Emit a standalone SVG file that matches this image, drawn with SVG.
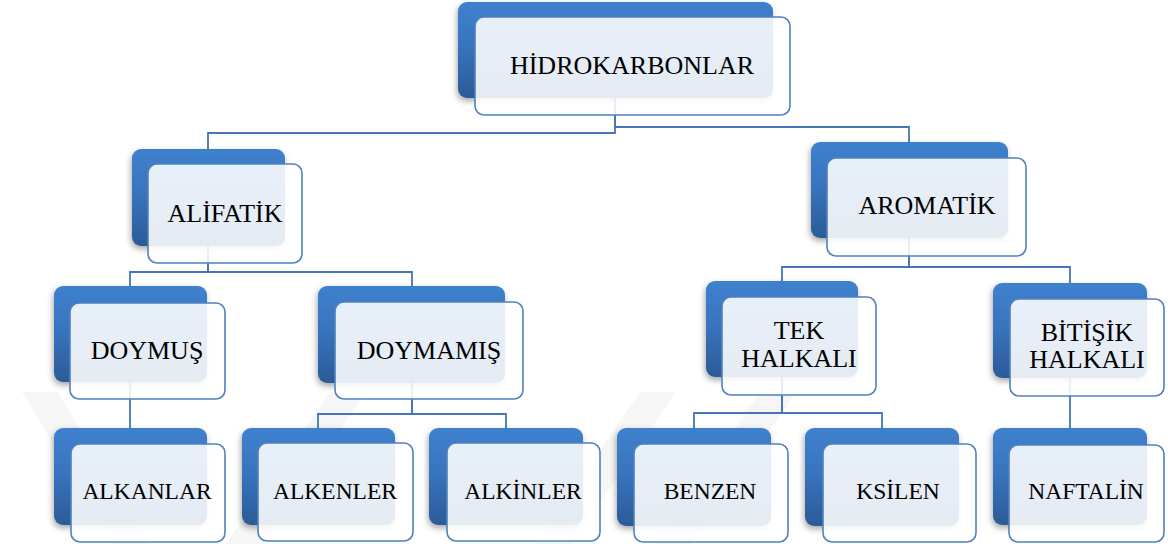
<svg xmlns="http://www.w3.org/2000/svg" width="1168" height="544" viewBox="0 0 1168 544">
  <defs>
    <linearGradient id="blueGrad" x1="0" y1="0" x2="0" y2="1">
      <stop offset="0" stop-color="#3e81cd"/>
      <stop offset="0.45" stop-color="#3974bf"/>
      <stop offset="1" stop-color="#2b5b97"/>
    </linearGradient>
    <filter id="shadow" x="-10%" y="-10%" width="125%" height="130%">
      <feDropShadow dx="-1" dy="3" stdDeviation="3" flood-color="#000" flood-opacity="0.35"/>
    </filter>
  </defs>
  <rect width="1168" height="544" fill="#ffffff"/>

  <g id="watermark" fill="#000" fill-opacity="0.035">
    <polygon points="22,392 58,392 150,544 114,544"/>
    <polygon points="330,392 366,392 262,544 226,544"/>
    <polygon points="640,392 676,392 572,544 536,544"/>
    <polygon points="760,392 796,392 692,544 656,544"/>
  </g>

  <g id="connectors" fill="none" stroke="#4676b6" stroke-width="1.8">
    <path d="M615,98 V133 H208 V149"/>
    <path d="M615,98 V127 H909 V142"/>
    <path d="M208,246 V272 H130 V286"/>
    <path d="M208,246 V272 H412 V286"/>
    <path d="M130,382 V428"/>
    <path d="M412,383 V414 H318 V428"/>
    <path d="M412,383 V414 H506 V428"/>
    <path d="M909,238 V267 H782 V281"/>
    <path d="M909,238 V267 H1070 V283"/>
    <path d="M782,377 V413 H694 V428"/>
    <path d="M782,377 V413 H882 V428"/>
    <path d="M1070,378 V428"/>
  </g>

  <g id="node-hidrokarbonlar">
    <rect x="458" y="2" width="315" height="96" rx="9" fill="url(#blueGrad)" filter="url(#shadow)"/>
    <rect x="475" y="17" width="315" height="98" rx="9" fill="#ffffff" fill-opacity="0.88" stroke="#4f81bd" stroke-width="1.6"/>
    <text x="632" y="74" font-family="Times New Roman, serif" font-size="26" text-anchor="middle">HİDROKARBONLAR</text>
  </g>
  <g id="node-alifatik">
    <rect x="132" y="149" width="153" height="97" rx="9" fill="url(#blueGrad)" filter="url(#shadow)"/>
    <rect x="148" y="164" width="154" height="99" rx="9" fill="#ffffff" fill-opacity="0.88" stroke="#4f81bd" stroke-width="1.6"/>
    <text x="225" y="222" font-family="Times New Roman, serif" font-size="26" text-anchor="middle">ALİFATİK</text>
  </g>
  <g id="node-aromatik">
    <rect x="811" y="142" width="197" height="96" rx="9" fill="url(#blueGrad)" filter="url(#shadow)"/>
    <rect x="827" y="158" width="199" height="98" rx="9" fill="#ffffff" fill-opacity="0.88" stroke="#4f81bd" stroke-width="1.6"/>
    <text x="927" y="214" font-family="Times New Roman, serif" font-size="26" text-anchor="middle">AROMATİK</text>
  </g>
  <g id="node-doymus">
    <rect x="54" y="286" width="153" height="96" rx="9" fill="url(#blueGrad)" filter="url(#shadow)"/>
    <rect x="70" y="303" width="155" height="96" rx="9" fill="#ffffff" fill-opacity="0.88" stroke="#4f81bd" stroke-width="1.6"/>
    <text x="147" y="359" font-family="Times New Roman, serif" font-size="26" text-anchor="middle">DOYMUŞ</text>
  </g>
  <g id="node-doymamis">
    <rect x="318" y="286" width="187" height="97" rx="9" fill="url(#blueGrad)" filter="url(#shadow)"/>
    <rect x="335" y="302" width="188" height="97" rx="9" fill="#ffffff" fill-opacity="0.88" stroke="#4f81bd" stroke-width="1.6"/>
    <text x="429" y="359" font-family="Times New Roman, serif" font-size="26" text-anchor="middle">DOYMAMIŞ</text>
  </g>
  <g id="node-tek-halkali">
    <rect x="706" y="281" width="152" height="96" rx="9" fill="url(#blueGrad)" filter="url(#shadow)"/>
    <rect x="722" y="297" width="154" height="98" rx="9" fill="#ffffff" fill-opacity="0.88" stroke="#4f81bd" stroke-width="1.6"/>
    <text x="799" y="339" font-family="Times New Roman, serif" font-size="26" text-anchor="middle">TEK</text>
    <text x="799" y="367" font-family="Times New Roman, serif" font-size="26" text-anchor="middle">HALKALI</text>
  </g>
  <g id="node-bitisik-halkali">
    <rect x="993" y="283" width="154" height="95" rx="9" fill="url(#blueGrad)" filter="url(#shadow)"/>
    <rect x="1010" y="299" width="154" height="97" rx="9" fill="#ffffff" fill-opacity="0.88" stroke="#4f81bd" stroke-width="1.6"/>
    <text x="1087" y="341" font-family="Times New Roman, serif" font-size="26" text-anchor="middle">BİTİŞİK</text>
    <text x="1087" y="368" font-family="Times New Roman, serif" font-size="26" text-anchor="middle">HALKALI</text>
  </g>
  <g id="node-alkanlar">
    <rect x="54" y="428" width="153" height="97" rx="9" fill="url(#blueGrad)" filter="url(#shadow)"/>
    <rect x="71" y="444" width="154" height="98" rx="9" fill="#ffffff" fill-opacity="0.88" stroke="#4f81bd" stroke-width="1.6"/>
    <text x="147" y="499" font-family="Times New Roman, serif" font-size="23.5" text-anchor="middle">ALKANLAR</text>
  </g>
  <g id="node-alkenler">
    <rect x="242" y="428" width="153" height="97" rx="9" fill="url(#blueGrad)" filter="url(#shadow)"/>
    <rect x="258" y="443" width="155" height="98" rx="9" fill="#ffffff" fill-opacity="0.88" stroke="#4f81bd" stroke-width="1.6"/>
    <text x="335" y="499" font-family="Times New Roman, serif" font-size="23.5" text-anchor="middle">ALKENLER</text>
  </g>
  <g id="node-alkinler">
    <rect x="429" y="428" width="154" height="97" rx="9" fill="url(#blueGrad)" filter="url(#shadow)"/>
    <rect x="447" y="443" width="153" height="98" rx="9" fill="#ffffff" fill-opacity="0.88" stroke="#4f81bd" stroke-width="1.6"/>
    <text x="523" y="499" font-family="Times New Roman, serif" font-size="23.5" text-anchor="middle">ALKİNLER</text>
  </g>
  <g id="node-benzen">
    <rect x="617" y="428" width="154" height="98" rx="9" fill="url(#blueGrad)" filter="url(#shadow)"/>
    <rect x="634" y="444" width="154" height="98" rx="9" fill="#ffffff" fill-opacity="0.88" stroke="#4f81bd" stroke-width="1.6"/>
    <text x="710" y="499" font-family="Times New Roman, serif" font-size="23.5" text-anchor="middle">BENZEN</text>
  </g>
  <g id="node-ksilen">
    <rect x="805" y="428" width="154" height="98" rx="9" fill="url(#blueGrad)" filter="url(#shadow)"/>
    <rect x="823" y="444" width="153" height="98" rx="9" fill="#ffffff" fill-opacity="0.88" stroke="#4f81bd" stroke-width="1.6"/>
    <text x="898" y="499" font-family="Times New Roman, serif" font-size="23.5" text-anchor="middle">KSİLEN</text>
  </g>
  <g id="node-naftalin">
    <rect x="993" y="428" width="154" height="97" rx="9" fill="url(#blueGrad)" filter="url(#shadow)"/>
    <rect x="1009" y="445" width="155" height="97" rx="9" fill="#ffffff" fill-opacity="0.88" stroke="#4f81bd" stroke-width="1.6"/>
    <text x="1086" y="499" font-family="Times New Roman, serif" font-size="23.5" text-anchor="middle">NAFTALİN</text>
  </g>
</svg>
